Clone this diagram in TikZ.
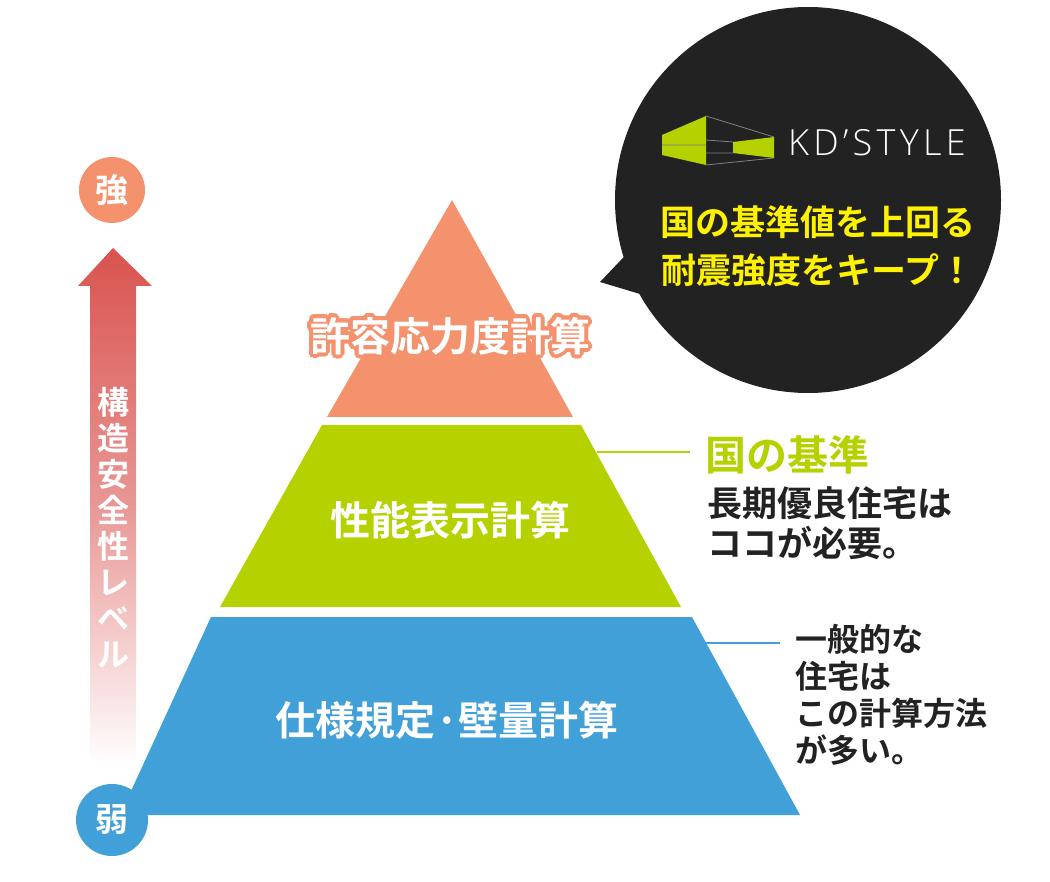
\documentclass[tikz,border=0pt]{standalone}
\usepackage{fontspec}
\setmainfont{Noto Sans CJK JP Bold}
\newfontfamily\logofont[LetterSpace=12]{Open Sans Light}
\usepackage{tikz}
\usetikzlibrary{positioning, calc}
\definecolor{tierorange}{HTML}{F4926E}
\definecolor{tiergreen}{HTML}{B5D100}
\definecolor{tierblue}{HTML}{42A0D8}
\definecolor{arrowred}{HTML}{D9534F}
\definecolor{bubble}{HTML}{222222}
\definecolor{catchyellow}{HTML}{FFF200}
\begin{document}
\begin{tikzpicture}[x=1pt,y=-1pt,
        tier/.style={font=\fontsize{40}{42}\selectfont, text=white},
        note/.style={font=\fontsize{35}{40}\selectfont, align=left, anchor=north west, inner sep=0, text=bubble},
        level/.style={circle, minimum size=66pt, inner sep=0, text=white, font=\fontsize{33}{33}\selectfont}
    ]
    \useasboundingbox (0,0) rectangle (1050,882);

    % pyramid
    \fill[tierorange] (452,200) -- (573,417) -- (327,417) -- cycle;
    \fill[tiergreen] (322,425) -- (581,425) -- (681,607) -- (220,607) -- cycle;
    \fill[tierblue] (211,617) -- (692,617) -- (800,815) -- (120,815) -- cycle;
    \foreach \a in {0,22.5,...,337.5}
        \node[tier, text=tierorange] at ($(450,336)+(\a:4)$) {許容応力度計算};
    \node[tier] (top) at (450,336) {許容応力度計算};
    \node[tier] (mid) at (450,520) {性能表示計算};
    \node[tier] (bot) at (447,720) {仕様規定·壁量計算};

    % level arrow
    \shade[top color=arrowred, bottom color=white, middle color=arrowred!60]
        (90,765) -- (90,286) -- (78,286) -- (113,248) -- (152,286) -- (136,286) -- (136,765) -- cycle;
    \node[level, fill=tierorange] (strong) at (112,190) {強};
    \node[level, fill=tierblue, minimum size=72pt] (weak) at (112,820) {弱};
    \node[text=white, font=\fontsize{32}{36}\selectfont, align=center, inner sep=0] (lvl) at (113,528)
        {構\\造\\安\\全\\性\\レ\\ベ\\ル};

    % notes
    \coordinate (gstart) at (597,452);
    \coordinate (gend) at (690,452);
    \draw[tiergreen, line width=2pt] (gstart) -- (gend);
    \node[note, text=tiergreen, font=\fontsize{41}{41}\selectfont, anchor=west] (std) at (705,455) {国の基準};
    \node[note] (long) at (707,486) {長期優良住宅は\\ココが必要。};
    \coordinate (bstart) at (705,643);
    \coordinate (bend) at (780,643);
    \draw[tierblue, line width=2pt] (bstart) -- (bend);
    \node[note, font=\fontsize{32}{37}\selectfont] (general) at (795,624) {一般的な\\住宅は\\この計算方法\\が多い。};

    % bubble
    \fill[bubble] (600,282) -- (640,240) -- (660,300) -- cycle;
    \fill[bubble] (808,200) circle (193);
    \fill[tiergreen] (662,135) -- (706,116) -- (706,165) -- (662,155) -- cycle;
    \fill[tiergreen] (733,142) -- (774,137) -- (774,158) -- (733,153) -- cycle;
    \draw[gray, line width=0.8pt] (706,116) -- (774,137) (706,165) -- (774,158)
        (706,140) -- (733,142) (706,153) -- (733,153) (662,145) -- (706,145);
    \node[text=white, font=\logofont\fontsize{36}{36}\selectfont, anchor=west, inner sep=0] (logo) at (788,143) {KD’STYLE};
    \node[text=catchyellow, font=\fontsize{35}{48}\selectfont, align=center] (catch) at (818,246)
        {国の基準値を上回る\\耐震強度をキープ！};
\end{tikzpicture}
\end{document}
